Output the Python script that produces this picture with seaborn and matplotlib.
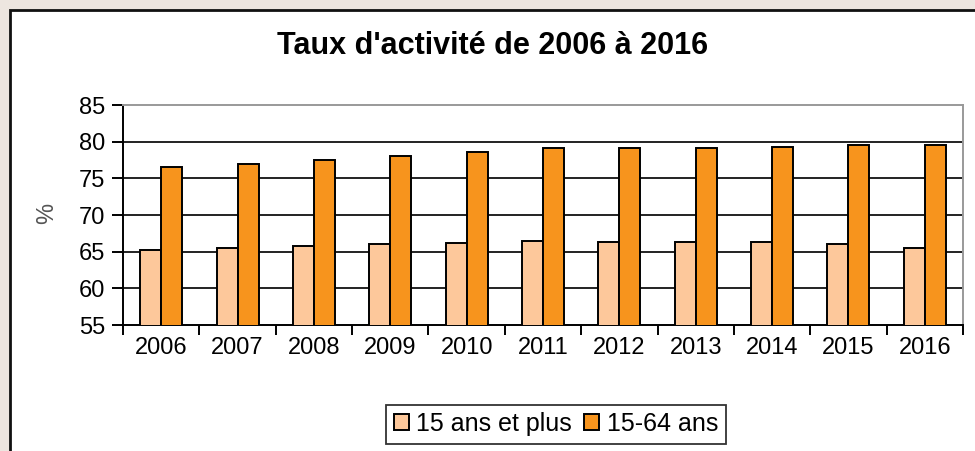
import pandas as pd
import matplotlib
matplotlib.use('Agg')
import matplotlib.pyplot as plt
import seaborn as sns
from matplotlib.patches import Rectangle

annees = ['2006', '2007', '2008', '2009', '2010', '2011', '2012', '2013', '2014', '2015', '2016']
taux_15_plus = [65.2, 65.5, 65.8, 66.0, 66.2, 66.5, 66.3, 66.3, 66.3, 66.0, 65.5]
taux_15_64 = [76.5, 77.0, 77.5, 78.0, 78.6, 79.1, 79.1, 79.1, 79.3, 79.6, 79.6]
groupes = ['15 ans et plus', '15-64 ans']
couleurs = ['#fdc89b', '#f7941d']

df = pd.DataFrame({
    'annee': annees * 2,
    'taux': taux_15_plus + taux_15_64,
    'groupe': [groupes[0]] * len(annees) + [groupes[1]] * len(annees),
})

sns.set_style('white')
plt.rcParams['font.family'] = ['Liberation Sans', 'DejaVu Sans']
plt.rcParams['text.color'] = 'black'
plt.rcParams['xtick.color'] = 'black'
plt.rcParams['ytick.color'] = 'black'

fig = plt.figure(figsize=(9.75, 4.51), dpi=100)
fig.patch.set_facecolor('#ede6e0')
# white panel with black frame
fig.patches.append(Rectangle((10 / 975, -0.2), 1.2, 1.2 - 10 / 451, transform=fig.transFigure,
                             facecolor='white', edgecolor='#111111', linewidth=2, zorder=-1))

ax = fig.add_axes([123 / 975, 1 - 325 / 451, (963 - 123) / 975, (325 - 105) / 451])
sns.barplot(data=df, x='annee', y='taux', hue='groupe', palette=couleurs, width=0.55,
            edgecolor='black', linewidth=1.4, saturation=1, ax=ax, zorder=3)

ax.set_ylim(55, 85)
ax.set_xlim(-0.5, len(annees) - 0.5)
ax.set_yticks(range(55, 86, 5))
ax.set_facecolor('white')
for y in range(60, 85, 5):
    ax.axhline(y, color='#222222', linewidth=1.4, zorder=1)

ax.spines['left'].set_color('black')
ax.spines['bottom'].set_color('black')
ax.spines['top'].set_color('#999999')
ax.spines['right'].set_color('#999999')
for s in ax.spines.values():
    s.set_linewidth(1.4)

ax.tick_params(axis='y', direction='out', length=8, width=1.4, color='black', labelsize=17, pad=5, left=True)
ax.tick_params(axis='x', which='major', length=0, labelsize=17, pad=9)
ax.set_xticks([i + 0.5 for i in range(-1, len(annees))], minor=True)
ax.tick_params(axis='x', which='minor', direction='out', length=7, width=1.4, color='black', bottom=True)

ax.set_xlabel('')
ax.set_ylabel('')
fig.text(47 / 975, 1 - 213 / 451, '%', rotation=90, ha='center', va='center', fontsize=17, color='#555555')

fig.text(493 / 975, 1 - 46 / 451, "Taux d'activité de 2006 à 2016", ha='center', va='center',
         fontsize=22, fontweight='bold')

ax.get_legend().remove()
handles, labels = ax.get_legend_handles_labels()
leg = fig.legend(handles, labels, loc='center', bbox_to_anchor=(556 / 975, 1 - 424 / 451), ncol=2,
                 frameon=True, fancybox=False, edgecolor='black', fontsize=18,
                 handlelength=0.6, handleheight=0.6, handletextpad=0.3, columnspacing=0.5,
                 borderpad=0.3, borderaxespad=0)
leg.get_frame().set_linewidth(1.3)

fig.savefig('out.png', dpi=100, facecolor=fig.get_facecolor())
